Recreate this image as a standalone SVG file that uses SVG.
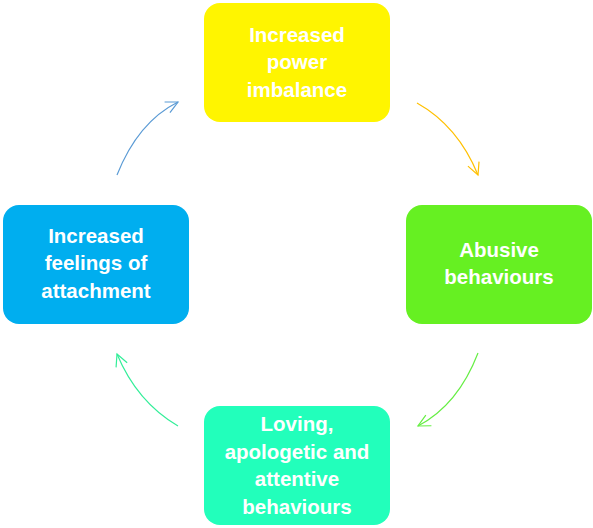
<svg xmlns="http://www.w3.org/2000/svg" width="593" height="528" viewBox="0 0 593 528">
<style>
.box{stroke:none}
.lbl{font-family:"Liberation Sans",Arial,sans-serif;font-weight:bold;font-size:20.5px;fill:#ffffff;text-anchor:middle}
.con{fill:none;stroke-width:1.2}
</style>
<defs>
<marker id="aB" markerUnits="userSpaceOnUse" markerWidth="16" markerHeight="16" refX="13" refY="7" orient="auto"><path d="M1,1 L13,7 L1,13" fill="none" stroke="#5B9BD5" stroke-width="1.2"/></marker>
<marker id="aY" markerUnits="userSpaceOnUse" markerWidth="16" markerHeight="16" refX="13" refY="7" orient="auto"><path d="M1,1 L13,7 L1,13" fill="none" stroke="#FFC000" stroke-width="1.2"/></marker>
<marker id="aG" markerUnits="userSpaceOnUse" markerWidth="16" markerHeight="16" refX="13" refY="7" orient="auto"><path d="M1,1 L13,7 L1,13" fill="none" stroke="#66EE44" stroke-width="1.2"/></marker>
<marker id="aT" markerUnits="userSpaceOnUse" markerWidth="16" markerHeight="16" refX="13" refY="7" orient="auto"><path d="M1,1 L13,7 L1,13" fill="none" stroke="#33EE99" stroke-width="1.2"/></marker>
</defs>
<rect width="593" height="528" fill="#ffffff"/>
<g id="connectors">
<path class="con" stroke="#5B9BD5" d="M117,175 Q138,122 178,102" marker-end="url(#aB)"/>
<path class="con" stroke="#FFC000" d="M417,103 Q458,126 478,175" marker-end="url(#aY)"/>
<path class="con" stroke="#66EE44" d="M478,353 Q458,405 418,426" marker-end="url(#aG)"/>
<path class="con" stroke="#33EE99" d="M178,426 Q137,402 117,354" marker-end="url(#aT)"/>
</g>
<g id="node-top">
<rect class="box" x="204" y="3" width="186" height="119" rx="16" fill="#FFF500"/>
<text class="lbl" x="297" y="42">Increased</text>
<text class="lbl" x="297" y="69">power</text>
<text class="lbl" x="297" y="97">imbalance</text>
</g>
<g id="node-right">
<rect class="box" x="406" y="205" width="186" height="119" rx="16" fill="#66F022"/>
<text class="lbl" x="499" y="257">Abusive</text>
<text class="lbl" x="499" y="284">behaviours</text>
</g>
<g id="node-bottom">
<rect class="box" x="204" y="406" width="186" height="119" rx="16" fill="#22FFBB"/>
<text class="lbl" x="297" y="431">Loving,</text>
<text class="lbl" x="297" y="459">apologetic and</text>
<text class="lbl" x="297" y="486">attentive</text>
<text class="lbl" x="297" y="514">behaviours</text>
</g>
<g id="node-left">
<rect class="box" x="3" y="205" width="186" height="119" rx="16" fill="#00AEEF"/>
<text class="lbl" x="96" y="243">Increased</text>
<text class="lbl" x="96" y="270">feelings of</text>
<text class="lbl" x="96" y="298">attachment</text>
</g>
</svg>
